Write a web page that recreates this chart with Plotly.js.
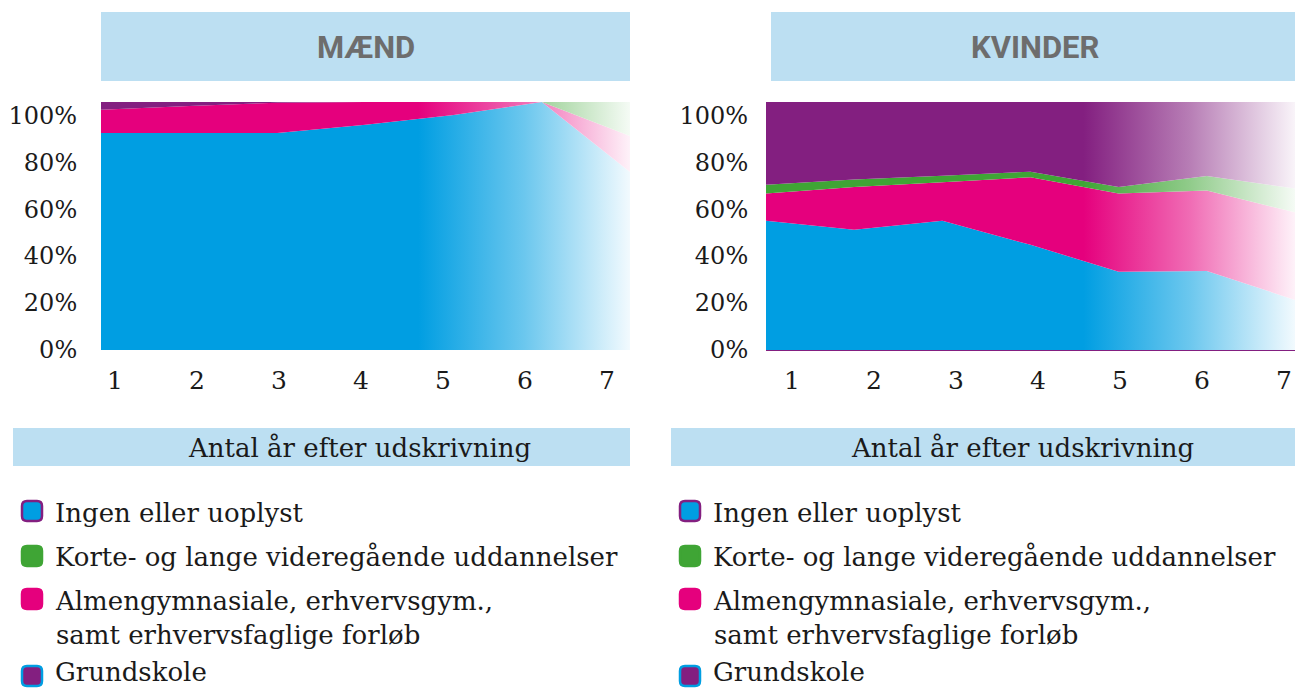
<!DOCTYPE html>
<html>
<head>
<meta charset="utf-8">
<script src="https://cdn.plot.ly/plotly-3.0.1.min.js"></script>
<style>
html,body{margin:0;padding:0;background:#fff;}
#chart{width:1295px;height:689px;}
</style>
</head>
<body>
<div id="chart"></div>
<script>
// ---------- data ----------
var years = [1, 2, 3, 4, 5, 6, 7];
var yearTicks = [1, 2, 3, 4, 5, 6, 7];
var yearTickText = ['1', '2', '3', '4', '5', '6', '7'];
var pctTicks = [0, 20, 40, 60, 80, 100];
var pctTickText = ['0%', '20%', '40%', '60%', '80%', '100%'];

var seriesNames = ['Ingen eller uoplyst', 'Korte- og lange videregående uddannelser',
                   'Almengymnasiale, erhvervsgym.,<br>samt erhvervsfaglige forløb', 'Grundskole'];
var panelTitles = ['MÆND', 'KVINDER'];
var axisTitle = 'Antal år efter udskrivning';

// Mænd (share of each year, stacked bottom -> top: Ingen, Almen, Korte, Grundskole)
var menIngen = [87.5, 87.5, 87.5, 90.8, 94.8, 100, 71.8];
var menAlmen = [9.4, 10.9, 12.2, 9.2, 5.2, 0, 14.5];
var menKorte = [0, 0, 0, 0, 0, 0, 13.7];
var menGrund = [3.1, 1.6, 0.3, 0, 0, 0, 0];

// Kvinder
var kvIngen = [52.1, 48.5, 52.1, 42.4, 31.6, 31.9, 20.2];
var kvAlmen = [11.0, 17.2, 15.5, 27.3, 31.5, 32.4, 35.3];
var kvKorte = [3.5, 3.0, 2.7, 2.2, 2.6, 5.9, 9.6];
var kvGrund = [33.4, 31.3, 29.7, 28.1, 34.3, 29.8, 34.9];

// ---------- styling ----------
var W = 1295, H = 689;
var C = {blue: [0, 158, 226], magenta: [229, 0, 125], green: [63, 165, 53], purple: [131, 31, 128]};
var headerBg = '#bcdff2';
var serif = 'DejaVu Serif, serif';
var textCol = '#1a1a1a';

function px(x) { return x / W; }
function py(y) { return 1 - y / H; }
function rgb(c) { return 'rgb(' + c[0] + ',' + c[1] + ',' + c[2] + ')'; }
function mix(c, t) { // t = share of white
  return 'rgb(' + Math.round(c[0] + (255 - c[0]) * t) + ',' + Math.round(c[1] + (255 - c[1]) * t) + ',' + Math.round(c[2] + (255 - c[2]) * t) + ')';
}
function grad(c) {
  return {
    type: 'horizontal', start: 1, stop: 7,
    colorscale: [[0, rgb(c)], [0.6, rgb(c)], [0.8, mix(c, 0.42)], [1, mix(c, 0.95)]]
  };
}

function areaTraces(ingen, almen, korte, grund, xa, ya, grp) {
  var list = [[ingen, C.blue, seriesNames[0]], [almen, C.magenta, seriesNames[2]],
              [korte, C.green, seriesNames[1]], [grund, C.purple, seriesNames[3]]];
  return list.map(function (d) {
    return {
      type: 'scatter', mode: 'none', x: years, y: d[0], stackgroup: grp,
      fillcolor: rgb(d[1]), fillgradient: grad(d[1]), line: {width: 0},
      name: d[2].replace('<br>', ' '), xaxis: xa, yaxis: ya, showlegend: false, hoverinfo: 'x+y+name'
    };
  });
}

// invisible carrier traces so the label axes get drawn
function labelCarrier(xa, ya) {
  return {type: 'scatter', mode: 'none', x: yearTicks, y: yearTicks.map(function () { return null; }),
          xaxis: xa, yaxis: ya, showlegend: false, hoverinfo: 'skip'};
}

var data = [].concat(
  areaTraces(menIngen, menAlmen, menKorte, menGrund, 'x', 'y', 'm'),
  areaTraces(kvIngen, kvAlmen, kvKorte, kvGrund, 'x2', 'y2', 'k'),
  [labelCarrier('x3', 'y3'), labelCarrier('x4', 'y4')]
);

// panel geometry (pixels)
var P = [
  {l: 101, r: 630, xl: [0.829, 7.28], ystand: 18, head: [101, 630], headTx: 366,
   tbox: [13, 630], tTx: 359, legX: 22},
  {l: 766, r: 1295, xl: [0.683, 7.134], ystand: 12, head: [771, 1295], headTx: 1035,
   tbox: [671, 1295], tTx: 1022, legX: 680}
];
var plotTop = 102, plotBot = 350;

var hidden = {visible: false, fixedrange: true};
var layout = {
  width: W, height: H, margin: {l: 0, r: 0, t: 0, b: 0},
  paper_bgcolor: '#fff', plot_bgcolor: 'rgba(0,0,0,0)', showlegend: false,
  font: {family: serif, color: textCol},
  shapes: [], annotations: []
};

P.forEach(function (p, i) {
  var n = i === 0 ? '' : '2';
  var nl = i === 0 ? '3' : '4';
  var dom = [px(p.l), px(p.r)];
  var ydom = [py(plotBot), py(plotTop)];
  layout['xaxis' + n] = Object.assign({domain: dom, range: [1, 7], anchor: 'y' + n}, hidden);
  layout['yaxis' + n] = Object.assign({domain: ydom, range: [0, 100], anchor: 'x' + n}, hidden);
  // label axes (same box, own scale for where the labels sit)
  layout['xaxis' + nl] = {
    domain: dom, anchor: 'y' + nl, side: 'bottom', range: p.xl,
    tickmode: 'array', tickvals: yearTicks, ticktext: yearTickText,
    ticks: 'outside', ticklen: 8, tickcolor: 'rgba(0,0,0,0)',
    showgrid: false, zeroline: false, fixedrange: true,
    showline: i === 1, linecolor: rgb(C.purple), linewidth: 1,
    tickfont: {family: serif, size: 25, color: textCol}
  };
  layout['yaxis' + nl] = {
    domain: ydom, anchor: 'x' + nl, side: 'left', range: [-0.2, 105.8],
    tickmode: 'array', tickvals: pctTicks, ticktext: pctTickText,
    ticks: 'outside', ticklen: p.ystand, tickcolor: 'rgba(0,0,0,0)',
    showgrid: false, zeroline: false, fixedrange: true,
    tickfont: {family: serif, size: 24, color: textCol}
  };
  // header box
  layout.shapes.push({type: 'rect', xref: 'paper', yref: 'paper', x0: px(p.head[0]), x1: px(p.head[1]),
    y0: py(81), y1: py(12), fillcolor: headerBg, line: {width: 0}, layer: 'below'});
  layout.annotations.push({xref: 'paper', yref: 'paper', x: px(p.headTx), y: py(47), xanchor: 'center', yanchor: 'middle',
    text: '<b>' + panelTitles[i] + '</b>', showarrow: false,
    font: {family: 'Roboto, sans-serif', size: 31, color: '#6d6d6d'}});
  // axis title box
  layout.shapes.push({type: 'rect', xref: 'paper', yref: 'paper', x0: px(p.tbox[0]), x1: px(p.tbox[1]),
    y0: py(466), y1: py(428), fillcolor: headerBg, line: {width: 0}, layer: 'below'});
  layout.annotations.push({xref: 'paper', yref: 'paper', x: px(p.tTx), y: py(448), xanchor: 'center', yanchor: 'middle',
    text: axisTitle, showarrow: false, font: {family: serif, size: 26, color: textCol}});
  // legend
  var leg = [
    {y: 511, fill: C.blue, border: C.purple, text: seriesNames[0], ty: 513},
    {y: 556, fill: C.green, border: C.green, text: seriesNames[1], ty: 557},
    {y: 599, fill: C.magenta, border: C.magenta, text: seriesNames[2], ty: 618},
    {y: 676, fill: C.purple, border: C.blue, text: seriesNames[3], ty: 672}
  ];
  leg.forEach(function (e) {
    var x0 = p.legX, x1 = p.legX + 20, y0 = e.y - 10, y1 = e.y + 10, r = 5;
    var path = 'M' + px(x0 + r) + ',' + py(y0) + ' L' + px(x1 - r) + ',' + py(y0) +
      ' Q' + px(x1) + ',' + py(y0) + ' ' + px(x1) + ',' + py(y0 + r) +
      ' L' + px(x1) + ',' + py(y1 - r) + ' Q' + px(x1) + ',' + py(y1) + ' ' + px(x1 - r) + ',' + py(y1) +
      ' L' + px(x0 + r) + ',' + py(y1) + ' Q' + px(x0) + ',' + py(y1) + ' ' + px(x0) + ',' + py(y1 - r) +
      ' L' + px(x0) + ',' + py(y0 + r) + ' Q' + px(x0) + ',' + py(y0) + ' ' + px(x0 + r) + ',' + py(y0) + ' Z';
    layout.shapes.push({type: 'path', xref: 'paper', yref: 'paper', path: path,
      fillcolor: rgb(e.fill), line: {color: rgb(e.border), width: 2.5}});
    layout.annotations.push({xref: 'paper', yref: 'paper', x: px(p.legX + 31), y: py(e.ty), xanchor: 'left', yanchor: 'middle',
      align: 'left', text: e.text, showarrow: false,
      font: {family: serif, size: 26, color: textCol}});
  });
});

Plotly.newPlot('chart', data, layout, {displayModeBar: false, staticPlot: true});
</script>
</body>
</html>
